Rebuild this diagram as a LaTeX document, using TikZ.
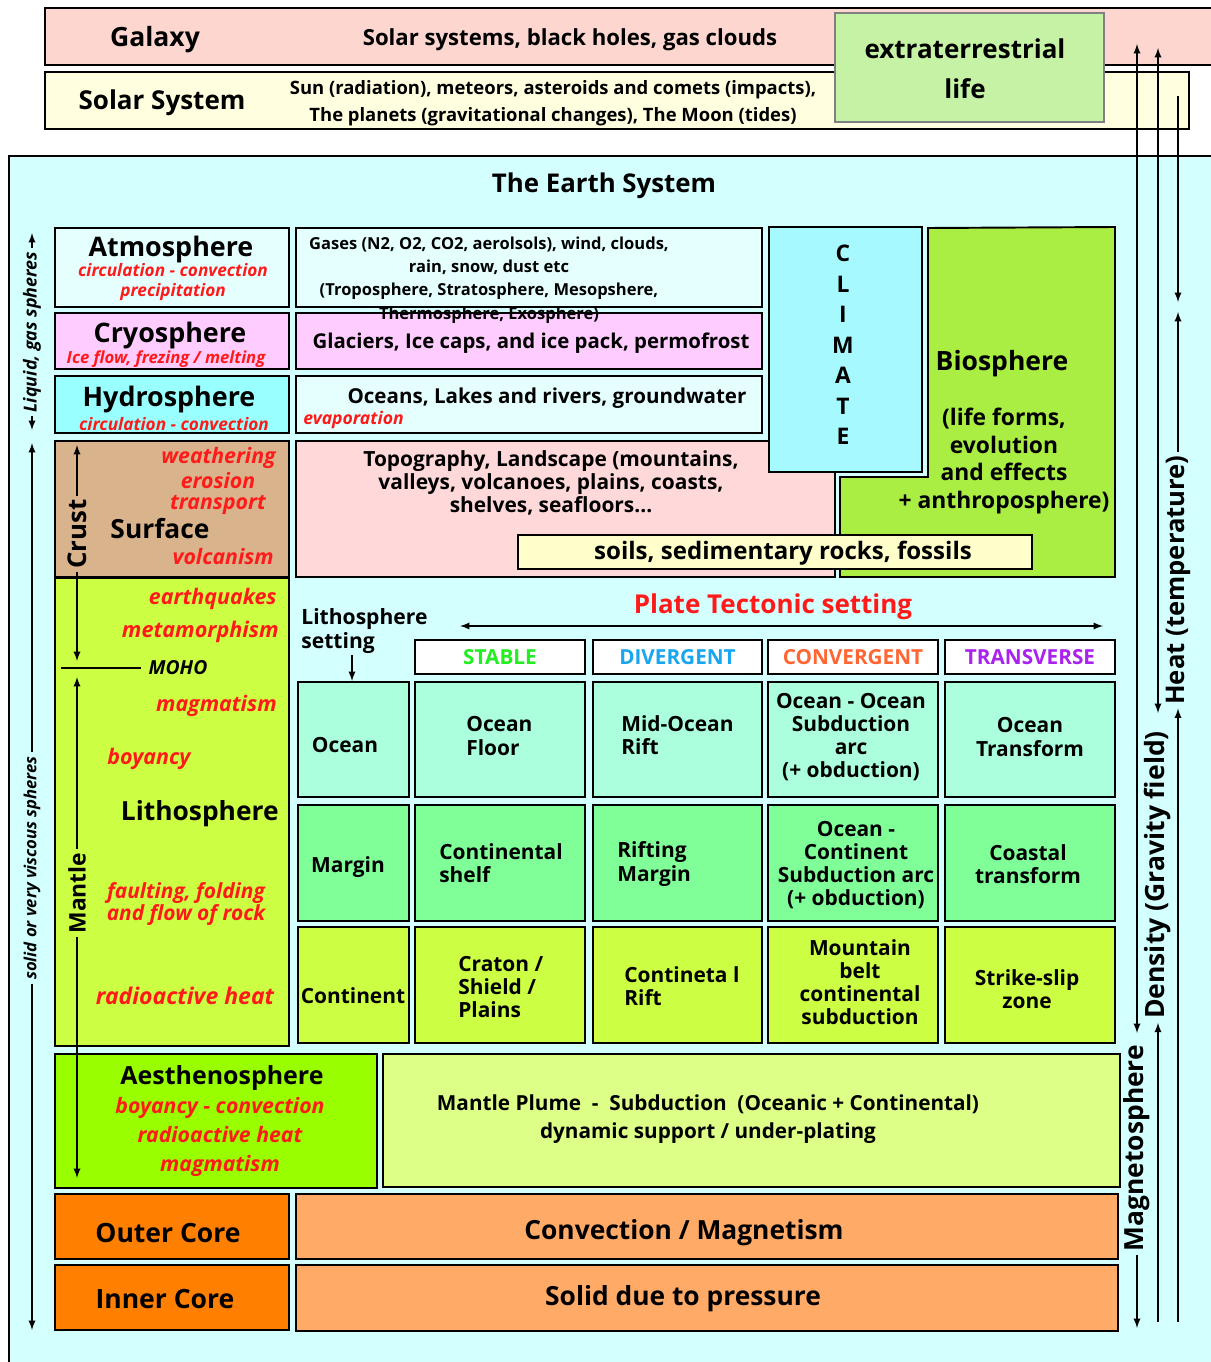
\documentclass[tikz,border=0pt]{standalone}
\usepackage{fontspec}
\setmainfont{Open Sans}
\usetikzlibrary{fit,positioning,arrows}
\definecolor{galaxy}{HTML}{FDD6D0}
\definecolor{solar}{HTML}{FFFFE0}
\definecolor{alien}{HTML}{C5F2A5}
\definecolor{earth}{HTML}{D4FFFF}
\definecolor{atmo}{HTML}{E5FFFF}
\definecolor{cryo}{HTML}{FFCCFF}
\definecolor{hydro}{HTML}{99FFFF}
\definecolor{crust}{HTML}{D9B38C}
\definecolor{litho}{HTML}{CCFF44}
\definecolor{topo}{HTML}{FFD9D9}
\definecolor{soil}{HTML}{FFFFCC}
\definecolor{climate}{HTML}{A6FAFF}
\definecolor{bio}{HTML}{AAEE44}
\definecolor{rowa}{HTML}{ABFFDD}
\definecolor{rowb}{HTML}{80FF99}
\definecolor{rowc}{HTML}{CCFF44}
\definecolor{asth}{HTML}{99FF00}
\definecolor{plume}{HTML}{DDFF88}
\definecolor{core}{HTML}{FF8000}
\definecolor{cored}{HTML}{FFAA66}
\definecolor{procred}{HTML}{FF1A1A}
\definecolor{cstable}{HTML}{22EE22}
\definecolor{cdiv}{HTML}{1AA6EE}
\definecolor{cconv}{HTML}{FF6633}
\definecolor{ctrans}{HTML}{AA22EE}
\tikzset{
  box/.style={draw=black, line width=1.1pt, inner sep=0pt},
  tx/.style 2 args={inner sep=0pt, align=center, font=\fontsize{#1}{#2}\selectfont\bfseries},
  rd/.style 2 args={inner sep=0pt, align=center, text=procred, font=\fontsize{#1}{#2}\selectfont\bfseries\itshape},
  rot/.style 2 args={inner sep=2pt, rotate=90, font=\fontsize{#1}{#2}\selectfont\bfseries},
  arr/.style={line width=0.85pt}
}

\begin{document}
\begin{tikzpicture}[x=0.02cm, y=-0.02cm, >=latex]
\useasboundingbox (0,0) rectangle (1210,1362);
% space around the earth
\node[box, line width=0.9pt, fill=galaxy, fit={(45,8) (1240,65)}] (gal) {};
\node[box, line width=0.9pt, fill=solar, fit={(45,72) (1189,129)}] (sol) {};
\node[box, draw=gray, fill=alien, fit={(835,13) (1104,122)}] (alien) {};
\node[tx={15.1}{18}] (galt) at (155,40) {Galaxy};
\node[tx={12.6}{15}] (galc) at (570,40) {Solar systems, black holes, gas clouds};
\node[tx={14.8}{18}] (solt) at (162,103) {Solar System};
\node[tx={10.5}{15.5}] (solc) at (553,103) {Sun (radiation), meteors, asteroids and comets (impacts),\\The planets (gravitational changes), The Moon (tides)};
\node[tx={14.8}{18}] (et) at (965,49) {extraterrestrial};
\node[tx={14.8}{18}] (life) at (965,89) {life};

% the earth system
\node[box, fill=earth, fit={(9,156) (1240,1390)}] (earth) {};
\node[tx={14.7}{18}] (est) at (604,186) {The Earth System};

% spheres
\node[box, fill=atmo, fit={(55,228) (289,307)}] (atm) {};
\node[box, fill=cryo, fit={(55,313) (289,369)}] (cry) {};
\node[box, fill=hydro, fit={(55,376) (289,433)}] (hyd) {};
\node[box, fill=crust, fit={(55,441) (289,577)}] (sur) {};
\node[box, fill=litho, fit={(55,578) (289,1046)}] (lit) {};
\node[box, fill=atmo, fit={(296,228) (762,307)}] (atmd) {};
\node[box, fill=cryo, fit={(296,313) (762,369)}] (cryd) {};
\node[box, fill=atmo, fit={(296,376) (762,433)}] (hydd) {};
\node[box, fill=topo, fit={(296,441) (835,577)}] (surd) {};
\node[box, fill=climate, fit={(769,227) (922,472)}] (clim) {};
\draw[box, fill=bio] (928,228) -- (1115,227) -- (1115,577) -- (840,577) -- (840,477) -- (928,477) -- cycle;
\node[box, fill=soil, fit={(518,535) (1032,569)}] (soil) {};

\node[tx={15.3}{19}] (atmt) at (171,250) {Atmosphere};
\node[rd={9.8}{11.3}] (atmp) at (173,282) {circulation - convection\\precipitation};
\node[tx={15.3}{19}] (cryt) at (170,336) {Cryosphere};
\node[rd={9.5}{12}] (cryp) at (166,359) {Ice flow, frezing / melting};
\node[tx={15.3}{19}] (hydt) at (169,400) {Hydrosphere};
\node[rd={9.8}{12}] (hydp) at (174,424) {circulation - convection};
\node[rd={12.1}{14}, anchor=east] (wea) at (276,458) {weathering};
\node[rd={12.1}{14}] (ero) at (218,481) {erosion};
\node[rd={12.1}{14}] (tra) at (218,505) {transport};
\node[tx={15}{17}] (surt) at (160,529) {Surface};
\node[rd={12.1}{14}, anchor=east] (vol) at (274,557) {volcanism};
\node[rd={12.2}{14}, anchor=east] (eq) at (277,599) {earthquakes};
\node[rd={12.3}{14}, anchor=east] (meta) at (279,632) {metamorphism};
\node[inner sep=0pt, font=\fontsize{11}{13}\selectfont\bfseries\itshape] (moho) at (178,668) {MOHO};
\node[rd={12.2}{14}, anchor=east] (mag1) at (277,706) {magmatism};
\node[rd={12.2}{14}] (boy) at (149,759) {boyancy};
\node[tx={15}{18}, anchor=east] (litt) at (279,814) {Lithosphere};
\node[rd={11.9}{13}] (fau) at (186,904) {faulting, folding\\and flow of rock};
\node[rd={13.1}{14}] (rad) at (185,996) {radioactive heat};

\node[tx={9.4}{13.3}] (atmx) at (489,280) {Gases (N2, O2, CO2, aerolsols), wind, clouds,\\rain, snow, dust etc\\(Troposphere, Stratosphere, Mesopshere,\\Thermosphere, Exosphere)};
\node[tx={11.6}{14}] (cryx) at (531,343) {Glaciers, Ice caps, and ice pack, permofrost};
\node[tx={11.7}{14}] (hydx) at (547,398) {Oceans, Lakes and rivers, groundwater};
\node[rd={10}{12}, anchor=west] (evap) at (303,420) {evaporation};
\node[tx={11.9}{13.3}] (surx) at (551,483) {Topography, Landscape (mountains,\\valleys, volcanoes, plains, coasts,\\shelves, seafloors...};
\node[tx={13.7}{15}] (soilt) at (783,553) {soils, sedimentary rocks, fossils};
\node[tx={13}{17.4}] (climt) at (843,345) {C\\L\\I\\M\\A\\T\\E};
\node[tx={15.1}{17}] (biot) at (1002,364) {Biosphere};
\node[tx={13}{15.7}] (biox) at (1004,461) {(life forms,\\evolution\\and effects\\+ anthroposphere)};

% plate tectonic setting
\node[tx={14.8}{16}, text=procred] (ptt) at (773,607) {Plate Tectonic setting};
\coordinate (ptl) at (460,626);
\coordinate (ptr) at (1103,626);
\draw[arr, <->] (ptl) -- (ptr);
\node[tx={12}{13.6}, align=left, anchor=west] (lset) at (301,631) {Lithosphere\\setting};
\foreach \k/\xa/\xb/\name/\col in {1/415/585/STABLE/cstable, 2/593/762/DIVERGENT/cdiv, 3/768/938/CONVERGENT/cconv, 4/945/1115/TRANSVERSE/ctrans}{
  \node[box, fill=white, fit={(\xa,640) (\xb,674)}] (hd\k) {};
  \node[tx={11.8}{14}, text=\col] at (hd\k) {\name};
}
\foreach \r/\ya/\yb/\col in {1/682/797/rowa, 2/805/921/rowb, 3/927/1043/rowc}
  \foreach \k/\xa/\xb in {0/298/409, 1/415/585, 2/593/762, 3/768/938, 4/945/1115}
    \node[box, fill=\col, fit={(\xa,\ya) (\xb,\yb)}] (g\r\k) {};
\coordinate (ls) at (352,655);
\draw[arr, ->] (ls) -- (ls |- g10.north);

\node[tx={11.9}{13.2}] (oce) at (345,745) {Ocean};
\node[tx={11.9}{13.2}, align=left, anchor=west] (ofl) at (466,736) {Ocean\\Floor};
\node[tx={11.9}{13.2}, align=left, anchor=west] (mor) at (621,735) {Mid-Ocean\\Rift};
\node[tx={11.9}{13.2}] (oos) at (851,737) {Ocean - Ocean\\Subduction\\arc\\(+ obduction)};
\node[tx={11.9}{13.2}] (otr) at (1030,737) {Ocean\\Transform};
\node[tx={11.9}{13.2}] (mar) at (348,867) {Margin};
\node[tx={11.9}{13.2}, align=left, anchor=west] (csh) at (439,863) {Continental\\shelf};
\node[tx={11.9}{13.2}, align=left, anchor=west] (rim) at (617,864) {Rifting\\Margin};
\node[tx={11.9}{13.2}] (ocs) at (856,865) {Ocean -\\Continent\\Subduction arc\\(+ obduction)};
\node[tx={11.9}{13.2}] (ctr) at (1028,864) {Coastal\\transform};
\node[tx={11.9}{13.2}] (con) at (353,996) {Continent};
\node[tx={11.9}{13.2}, align=left, anchor=west] (cra) at (458,987) {Craton /\\Shield /\\Plains};
\node[tx={11.9}{13.2}, align=left, anchor=west] (cri) at (624,986) {Contineta l\\Rift};
\node[tx={11.9}{13.2}] (mbe) at (860,982) {Mountain\\belt\\continental\\subduction};
\node[tx={11.9}{13.2}] (ssz) at (1027,989) {Strike-slip\\zone};

% deep earth
\node[box, fill=asth, fit={(55,1054) (377,1188)}] (ast) {};
\node[box, fill=plume, fit={(383,1054) (1120,1187)}] (plm) {};
\node[box, fill=core, fit={(55,1194) (289,1259)}] (oc) {};
\node[box, fill=cored, fit={(296,1194) (1118,1259)}] (ocd) {};
\node[box, fill=core, fit={(55,1265) (289,1330)}] (ic) {};
\node[box, fill=cored, fit={(296,1265) (1118,1331)}] (icd) {};
\node[tx={14.2}{17}] (astt) at (222,1078) {Aesthenosphere};
\node[rd={12.1}{16.4}] (astp) at (220,1137) {boyancy - convection\\radioactive heat\\magmatism};
\node[tx={11.8}{15.9}] (plmt) at (708,1119) {Mantle Plume\ \ -\ \ Subduction\ \ (Oceanic + Continental)\\dynamic support / under-plating};
\node[tx={15.1}{18}] (oct) at (168,1233) {Outer Core};
\node[tx={15}{18}] (ocx) at (684,1233) {Convection / Magnetism};
\node[tx={15.1}{18}] (ict) at (165,1299) {Inner Core};
\node[tx={15}{18}] (icx) at (683,1299) {Solid due to pressure};

% left axes
\coordinate (lq1) at (32,233);
\coordinate (lq2) at (32,430);
\node[rot={10.2}{12}, font=\fontsize{10.2}{12}\selectfont\bfseries\itshape] (liq) at (32,332) {Liquid, gas spheres};
\draw[arr, ->] (liq.east) -- (lq1);
\draw[arr, ->] (liq.west) -- (lq2);
\coordinate (sd1) at (32,443);
\coordinate (sd2) at (32,1330);
\node[rot={9.5}{12}, font=\fontsize{9.5}{12}\selectfont\bfseries\itshape] (solid) at (32,868) {solid or very viscous spheres};
\draw[arr, ->] (solid.east) -- (sd1);
\draw[arr, ->] (solid.west) -- (sd2);
\coordinate (cr1) at (77,445);
\coordinate (cr2) at (77,661);
\node[rot={14.7}{16}] (crt) at (77,534) {Crust};
\draw[arr, ->] (crt.east) -- (cr1);
\draw[arr, ->] (crt.west) -- (cr2);
\coordinate (mo1) at (61,668);
\coordinate (mo2) at (141,668);
\draw[arr] (mo1) -- (mo2);
\coordinate (mt1) at (77,677);
\coordinate (mt2) at (77,1178);
\node[rot={13}{16}] (mant) at (77,893) {Mantle};
\draw[arr, ->] (mant.east) -- (mt1);
\draw[arr, ->] (mant.west) -- (mt2);

% right axes
\coordinate (m1) at (1137,44);
\coordinate (m2) at (1137,1033);
\coordinate (m3) at (1137,1328);
\node[rot={15}{16}] (magn) at (1137,1148) {Magnetosphere};
\draw[arr, <->] (m1) -- (m2);
\draw[arr, ->] (magn.west) -- (m3);
\coordinate (d1) at (1158,48);
\coordinate (d2) at (1158,713);
\coordinate (d3) at (1158,1322);
\node[rot={15.1}{16}] (dens) at (1158,875) {Density (Gravity field)};
\draw[arr, <->] (d1) -- (d2);
\draw[arr, ->] (d3) -- (dens.west);
\coordinate (ht1) at (1178,96);
\coordinate (ht2) at (1178,302);
\coordinate (ht3) at (1178,312);
\coordinate (ht4) at (1178,1322);
\node[rot={14.6}{16}] (heat) at (1178,580) {Heat (temperature)};
\draw[arr, ->] (ht1) -- (ht2);
\draw[arr, ->] (heat.east) -- (ht3);
\draw[arr, ->] (ht4) -- (heat.west);
\end{tikzpicture}
\end{document}
